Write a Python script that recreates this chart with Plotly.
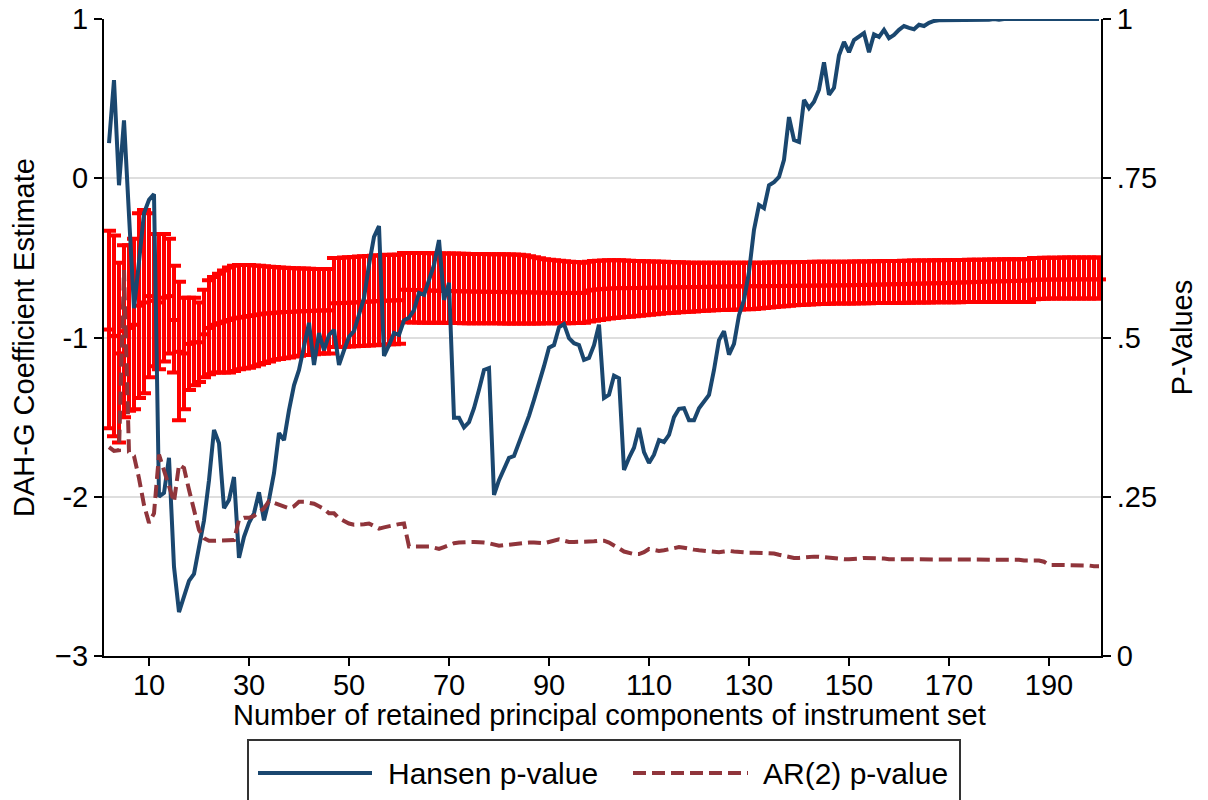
import plotly.graph_objects as go

# Number of retained principal components (x axis)
pcs = list(range(2, 201))

# DAH-G coefficient estimate and its confidence bounds (left axis)
coef = [
    -0.95, -0.99, -1.10, -0.96, -0.94, -0.92, -0.80, -0.78, -0.74, -0.77,
    -0.78, -0.75, -0.74, -0.89, -1.09, -1.10, -1.04, -1.03, -1.03, -0.98,
    -0.94, -0.92, -0.91, -0.90, -0.89, -0.88,
    -0.875, -0.870, -0.865, -0.860, -0.855, -0.850, -0.848, -0.845, -0.843, -0.840,
    -0.840, -0.838, -0.836, -0.835, -0.834, -0.832, -0.831, -0.830, -0.830,
    -0.785, -0.784, -0.783, -0.782, -0.780, -0.778, -0.776, -0.775, -0.773, -0.771,
    -0.770, -0.768, -0.767, -0.766,
    -0.700, -0.701, -0.702, -0.703, -0.704, -0.705, -0.706, -0.707, -0.708, -0.708,
    -0.709, -0.710, -0.710, -0.711, -0.712, -0.712, -0.713, -0.713, -0.714, -0.714,
    -0.715, -0.715, -0.716, -0.716,
    -0.716, -0.717, -0.717, -0.718, -0.718, -0.719, -0.719, -0.720, -0.720, -0.720,
    -0.720, -0.720, -0.720,
    -0.705, -0.700, -0.697, -0.695, -0.693, -0.691, -0.690,
    -0.690, -0.690, -0.689, -0.689, -0.688, -0.688, -0.687, -0.687, -0.686, -0.686,
    -0.685, -0.685, -0.684, -0.684, -0.683, -0.683, -0.682, -0.682, -0.681, -0.681,
    -0.680, -0.680, -0.679, -0.679, -0.679, -0.678, -0.678,
    -0.678, -0.678, -0.677, -0.677, -0.677, -0.676, -0.676, -0.676, -0.675, -0.675,
    -0.675, -0.674, -0.674, -0.674, -0.673, -0.673, -0.673, -0.672, -0.672,
    -0.671, -0.670, -0.670, -0.669, -0.668, -0.668, -0.667, -0.666, -0.665, -0.665,
    -0.664, -0.663, -0.662, -0.662, -0.661, -0.660, -0.659, -0.659, -0.658, -0.657,
    -0.656, -0.655, -0.654, -0.653, -0.652, -0.651, -0.650, -0.649, -0.648, -0.647,
    -0.647, -0.646, -0.645, -0.644, -0.643, -0.642,
    -0.637, -0.637, -0.637, -0.636, -0.636, -0.636, -0.636, -0.636, -0.635, -0.635,
    -0.635, -0.635, -0.635, -0.635,
]

ci_upper = [
    -0.33, -0.36, -0.53, -0.42, -0.42, -0.38, -0.22, -0.20, -0.22, -0.35,
    -0.35, -0.35, -0.38, -0.55, -0.65, -0.75, -0.75, -0.75, -0.78, -0.70,
    -0.64, -0.62, -0.60, -0.58, -0.56, -0.55,
    -0.545, -0.545, -0.545, -0.548, -0.550, -0.552, -0.555, -0.558, -0.560, -0.562,
    -0.563, -0.565, -0.566, -0.567, -0.568, -0.570, -0.570, -0.570, -0.570,
    -0.500, -0.500, -0.498, -0.496, -0.494, -0.492, -0.490, -0.488, -0.486, -0.484,
    -0.482, -0.481, -0.480, -0.480,
    -0.470, -0.470, -0.470, -0.470, -0.470, -0.471, -0.471, -0.472, -0.472, -0.473,
    -0.473, -0.474, -0.474, -0.475, -0.475, -0.476, -0.476, -0.477, -0.477, -0.478,
    -0.478, -0.479, -0.479, -0.480,
    -0.484, -0.490, -0.496, -0.502, -0.508, -0.512, -0.515, -0.518, -0.521, -0.524,
    -0.526, -0.528, -0.530,
    -0.525, -0.520, -0.518, -0.516, -0.515, -0.515, -0.515,
    -0.517, -0.518, -0.519, -0.520, -0.521, -0.522, -0.523, -0.524, -0.525, -0.526,
    -0.527, -0.528, -0.529, -0.530, -0.530, -0.530, -0.530, -0.530, -0.530, -0.530,
    -0.530, -0.530, -0.530, -0.530, -0.530, -0.530, -0.530,
    -0.530, -0.530, -0.529, -0.529, -0.528, -0.528, -0.527, -0.527, -0.526, -0.526,
    -0.526, -0.525, -0.525, -0.525, -0.525, -0.524, -0.524, -0.524, -0.524,
    -0.523, -0.523, -0.522, -0.522, -0.521, -0.521, -0.520, -0.520, -0.519, -0.519,
    -0.518, -0.518, -0.517, -0.517, -0.516, -0.516, -0.515, -0.515, -0.515, -0.514,
    -0.514, -0.513, -0.513, -0.512, -0.512, -0.511, -0.511, -0.510, -0.510, -0.510,
    -0.509, -0.509, -0.508, -0.508, -0.508, -0.507,
    -0.500, -0.500, -0.499, -0.499, -0.499, -0.499, -0.498, -0.498, -0.498, -0.498,
    -0.498, -0.498, -0.498, -0.498,
]

ci_lower = [
    -1.57, -1.62, -1.66, -1.50, -1.46, -1.45, -1.38, -1.35, -1.25, -1.18,
    -1.20, -1.15, -1.10, -1.22, -1.52, -1.45, -1.33, -1.30, -1.28, -1.25,
    -1.23, -1.22, -1.22, -1.22, -1.22, -1.21,
    -1.200, -1.195, -1.190, -1.180, -1.170, -1.160, -1.150, -1.140, -1.135, -1.130,
    -1.125, -1.120, -1.115, -1.110, -1.110, -1.105, -1.100, -1.100, -1.100,
    -1.060, -1.060, -1.058, -1.057, -1.055, -1.053, -1.052, -1.050, -1.048, -1.046,
    -1.045, -1.043, -1.042, -1.040,
    -0.905, -0.905, -0.906, -0.906, -0.907, -0.907, -0.908, -0.908, -0.908, -0.909,
    -0.909, -0.909, -0.910, -0.910, -0.910, -0.910, -0.911, -0.911, -0.911, -0.911,
    -0.912, -0.912, -0.912, -0.912,
    -0.912, -0.912, -0.912, -0.912, -0.911, -0.911, -0.911, -0.910, -0.910, -0.910,
    -0.909, -0.909, -0.908,
    -0.900, -0.895, -0.890, -0.885, -0.880, -0.877, -0.875,
    -0.872, -0.869, -0.866, -0.863, -0.860, -0.857, -0.854, -0.851, -0.848, -0.846,
    -0.844, -0.842, -0.840, -0.838, -0.836, -0.834, -0.832, -0.830, -0.829, -0.828,
    -0.827, -0.826, -0.825, -0.824, -0.823, -0.822, -0.821,
    -0.818, -0.815, -0.812, -0.809, -0.806, -0.803, -0.800, -0.798, -0.796, -0.794,
    -0.792, -0.791, -0.790, -0.789, -0.788, -0.787, -0.787, -0.786, -0.786,
    -0.786, -0.785, -0.785, -0.785, -0.784, -0.784, -0.784, -0.783, -0.783, -0.783,
    -0.782, -0.782, -0.781, -0.781, -0.780, -0.780, -0.779, -0.779, -0.778, -0.778,
    -0.778, -0.778, -0.777, -0.777, -0.777, -0.777, -0.777, -0.777, -0.777, -0.777,
    -0.777, -0.777, -0.777, -0.777, -0.777, -0.777,
    -0.760, -0.758, -0.756, -0.755, -0.755, -0.755, -0.755, -0.755, -0.755, -0.755,
    -0.755, -0.755, -0.755, -0.755,
]

# Specification test p-values (right axis)
hansen_p = [
    0.805, 0.904, 0.739, 0.841, 0.692, 0.546, 0.619, 0.695, 0.716, 0.725,
    0.250, 0.256, 0.311, 0.140, 0.069, 0.093, 0.118, 0.129, 0.174, 0.213,
    0.276, 0.355, 0.334, 0.232, 0.245, 0.281, 0.154, 0.187, 0.209, 0.224,
    0.257, 0.213, 0.245, 0.287, 0.350, 0.339, 0.386, 0.425, 0.449, 0.488,
    0.523, 0.457, 0.507, 0.480, 0.504, 0.512, 0.457, 0.480, 0.501, 0.510,
    0.535, 0.562, 0.614, 0.658, 0.675, 0.471, 0.488, 0.507, 0.504, 0.527,
    0.531, 0.543, 0.570, 0.567, 0.590, 0.614, 0.653, 0.559, 0.586, 0.374,
    0.374, 0.359, 0.367, 0.389, 0.418, 0.449, 0.452, 0.253, 0.276, 0.295,
    0.311, 0.314, 0.334, 0.358, 0.377, 0.402, 0.427, 0.455, 0.484, 0.488,
    0.516, 0.521, 0.499, 0.491, 0.488, 0.465, 0.468, 0.488, 0.520, 0.405,
    0.410, 0.440, 0.436, 0.292, 0.311, 0.327, 0.358, 0.320, 0.303, 0.316,
    0.339, 0.336, 0.347, 0.375, 0.388, 0.389, 0.370, 0.370, 0.389, 0.400,
    0.410, 0.449, 0.496, 0.510, 0.473, 0.490, 0.535, 0.559, 0.603, 0.669,
    0.708, 0.703, 0.739, 0.744, 0.752, 0.779, 0.846, 0.810, 0.807, 0.873,
    0.860, 0.870, 0.889, 0.932, 0.881, 0.892, 0.943, 0.964, 0.948, 0.967,
    0.972, 0.978, 0.948, 0.976, 0.972, 0.983, 0.970, 0.975, 0.983, 0.989,
    0.986, 0.984, 0.991, 0.989, 0.994, 0.997, 0.998, 0.998, 0.999, 0.999,
    0.999, 0.999, 0.999, 0.999, 0.999, 0.999, 0.999, 1.000, 0.999, 1.000,
    1.000, 1.000, 1.000, 1.000, 1.000, 1.000, 1.000, 1.000, 1.000, 1.000,
    1.000, 1.000, 1.000, 1.000, 1.000, 1.000, 1.000, 1.000, 1.000,
]

ar2_p = [
    0.328, 0.322, 0.323, 0.606, 0.320, 0.314, 0.279, 0.237, 0.209, 0.224,
    0.316, 0.292, 0.265, 0.242, 0.300, 0.295, 0.261, 0.229, 0.198, 0.185,
    0.181, 0.181, 0.181, 0.181, 0.181, 0.182, 0.214, 0.217, 0.217, 0.220,
    0.226, 0.232, 0.243, 0.240, 0.237, 0.235, 0.232, 0.235, 0.242, 0.242,
    0.240, 0.239, 0.235, 0.231, 0.224, 0.224, 0.216, 0.212, 0.208, 0.206,
    0.206, 0.207, 0.208, 0.204, 0.200, 0.202, 0.204, 0.205, 0.207, 0.208,
    0.172, 0.172, 0.172, 0.172, 0.172, 0.170, 0.168, 0.171, 0.174, 0.177,
    0.178, 0.179, 0.179, 0.179, 0.179, 0.178, 0.177, 0.175, 0.173, 0.174,
    0.175, 0.176, 0.177, 0.178, 0.178, 0.178, 0.177, 0.177, 0.179, 0.181,
    0.183, 0.181, 0.179, 0.179, 0.179, 0.179, 0.180, 0.180, 0.181, 0.181,
    0.178, 0.174, 0.169, 0.164, 0.162, 0.160, 0.160, 0.163, 0.168, 0.167,
    0.165, 0.166, 0.168, 0.170, 0.171, 0.170, 0.168, 0.167, 0.166, 0.165,
    0.164, 0.163, 0.163, 0.164, 0.165, 0.164, 0.163, 0.163, 0.162, 0.162,
    0.162, 0.162, 0.162, 0.161, 0.159, 0.157, 0.156, 0.154, 0.154, 0.155,
    0.155, 0.156, 0.156, 0.155, 0.154, 0.153, 0.153, 0.152, 0.152, 0.152,
    0.153, 0.154, 0.154, 0.154, 0.153, 0.153, 0.152, 0.152, 0.152, 0.152,
    0.151, 0.151, 0.151, 0.151, 0.151, 0.151, 0.152, 0.152, 0.152, 0.152,
    0.152, 0.152, 0.151, 0.151, 0.151, 0.151, 0.151, 0.151, 0.151, 0.151,
    0.151, 0.151, 0.151, 0.150, 0.150, 0.150, 0.150, 0.148, 0.143, 0.143,
    0.143, 0.143, 0.143, 0.143, 0.142, 0.142, 0.142, 0.141, 0.141,
]

coef_ticks = [-3, -2, -1, 0, 1]
coef_ticktext = ["\u22123", "-2", "-1", "0", "1"]
p_ticks = [0, 0.25, 0.5, 0.75, 1]
p_ticktext = ["0", ".25", ".5", ".75", "1"]
x_ticks = [10, 30, 50, 70, 90, 110, 130, 150, 170, 190]

RED = "#ff0000"
NAVY = "#1a476f"
MAROON = "#90353b"
FONT = "Liberation Sans, Arial, sans-serif"
FS = 29
FS_LEG = 30

W, H = 1208, 800
L, R, T, B = 104, 107, 19, 144

err_plus = [u - c for u, c in zip(ci_upper, coef)]
err_minus = [c - l for c, l in zip(coef, ci_lower)]

fig = go.Figure()

fig.add_trace(go.Scatter(
    x=pcs, y=coef, mode="markers", yaxis="y", showlegend=False,
    marker=dict(symbol="line-ew", size=10, color=RED, line=dict(color=RED, width=4)),
    error_y=dict(type="data", symmetric=False, array=err_plus, arrayminus=err_minus,
                 color=RED, thickness=4, width=7),
    hoverinfo="skip", cliponaxis=False,
))
fig.add_trace(go.Scatter(
    x=pcs, y=hansen_p, mode="lines", yaxis="y2", name="Hansen p-value",
    showlegend=False, line=dict(color=NAVY, width=4),
))
fig.add_trace(go.Scatter(
    x=pcs, y=ar2_p, mode="lines", yaxis="y2", name="AR(2) p-value",
    showlegend=False, line=dict(color=MAROON, width=4, dash="13px,6px"),
))

axis_common = dict(showline=True, linecolor="black", linewidth=2, ticks="outside",
                   ticklen=8, tickwidth=2, tickcolor="black", zeroline=False,
                   automargin=False,
                   tickfont=dict(family=FONT, size=FS, color="black"))

fig.update_layout(
    width=W, height=H, margin=dict(l=L, r=R, t=T, b=B, autoexpand=False),
    paper_bgcolor="white", plot_bgcolor="white",
    font=dict(family=FONT, size=FS, color="black"),
    xaxis=dict(range=[1, 200.4], tickvals=x_ticks, showgrid=False,
               ticklabelstandoff=-6, **axis_common),
    yaxis=dict(range=[-3, 1], tickvals=coef_ticks, ticktext=coef_ticktext,
               showgrid=True, gridcolor="#dedede", gridwidth=2,
               title=dict(text="DAH-G Coefficient Estimate", font=dict(family=FONT, size=FS),
                          standoff=12),
               **axis_common),
    yaxis2=dict(range=[0, 1], tickvals=p_ticks, ticktext=p_ticktext, overlaying="y",
                side="right", showgrid=False,
                title=dict(text="P-Values", font=dict(family=FONT, size=FS), standoff=16),
                **axis_common),
    showlegend=False,
)

# Pixel helpers for placing the x title and the legend in paper coordinates
def px(xp):
    return (xp - L) / (W - L - R)

def py(yp):
    return (H - B - yp) / (H - T - B)

fig.add_annotation(xref="paper", yref="paper", x=px(609), y=py(715),
                   text="Number of retained principal components of instrument set",
                   showarrow=False, xanchor="center", yanchor="middle",
                   font=dict(family=FONT, size=FS, color="black"))

shapes = [
    dict(type="rect", xref="paper", yref="paper", x0=px(248), x1=px(960),
         y0=py(740), y1=py(812), line=dict(color="#333333", width=2), fillcolor="white"),
    dict(type="line", xref="paper", yref="paper", x0=px(258), x1=px(372),
         y0=py(773), y1=py(773), line=dict(color=NAVY, width=4)),
    dict(type="line", xref="paper", yref="paper", x0=px(633), x1=px(748),
         y0=py(773), y1=py(773), line=dict(color=MAROON, width=4, dash="13px,6px")),
]
fig.update_layout(shapes=shapes)
fig.add_annotation(xref="paper", yref="paper", x=px(386), y=py(773), text="Hansen p-value",
                   showarrow=False, xanchor="left", yanchor="middle",
                   font=dict(family=FONT, size=FS_LEG, color="black"))
fig.add_annotation(xref="paper", yref="paper", x=px(761), y=py(773), text="AR(2) p-value",
                   showarrow=False, xanchor="left", yanchor="middle",
                   font=dict(family=FONT, size=FS_LEG, color="black"))

fig.write_html("out.html")
